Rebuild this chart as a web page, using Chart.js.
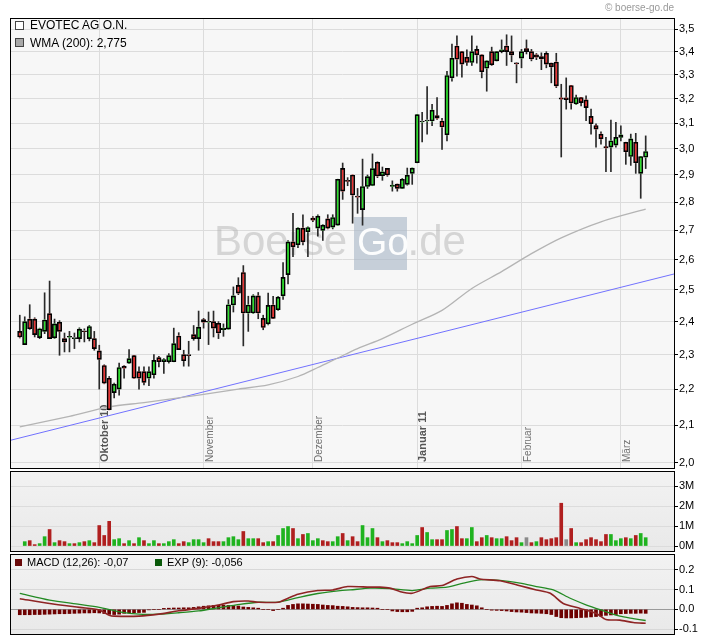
<!DOCTYPE html>
<html lang="de"><head><meta charset="utf-8"><title>EVOTEC AG O.N.</title>
<script src="https://cdn.jsdelivr.net/npm/chart.js@4.4.1/dist/chart.umd.min.js"></script>
<style>
html,body{margin:0;padding:0;background:#fff;}
body{position:relative;width:720px;height:644px;overflow:hidden;font-family:"Liberation Sans",Arial,Helvetica,sans-serif;}
canvas{position:absolute;left:0;display:block;}
.t{position:absolute;white-space:nowrap;color:#000;}
.b{position:absolute;box-sizing:border-box;}
</style></head><body>
<canvas id="cMain" width="720" height="470" style="top:0"></canvas>
<canvas id="cVol" width="720" height="85" style="top:469px"></canvas>
<canvas id="cMacd" width="720" height="92" style="top:552px"></canvas>
<div class="t" style="right:46px;top:2px;font-size:10px;line-height:12px;color:#9a9a9a">© boerse-go.de</div>
<div class="b" style="left:15px;top:21px;width:9px;height:9px;border:1px solid #444;background:#fff"></div>
<div class="t" style="left:30px;top:18px;font-size:12px;line-height:14px">EVOTEC AG O.N.</div>
<div class="b" style="left:15px;top:38px;width:9px;height:9px;border:1px solid #444;background:#a8a8a8"></div>
<div class="t" style="left:30px;top:35.5px;font-size:12px;line-height:14px">WMA (200): 2,775</div>
<div class="b" style="left:15px;top:559px;width:7px;height:7px;background:#6a0a0a"></div>
<div class="t" style="left:27px;top:556px;font-size:11px;line-height:12px">MACD (12,26): -0,07</div>
<div class="b" style="left:155px;top:559px;width:7px;height:7px;background:#0a5a0a"></div>
<div class="t" style="left:167px;top:556px;font-size:11px;line-height:12px">EXP (9): -0,056</div>
<script>
// ---- data (trading days from 9 Sep 2010 to 8 Mar 2011, index = trading day) ----
const monthIdx = [16, 37, 59, 80, 101, 121];
const monthLabels = ['Oktober 10', 'November', 'Dezember', 'Januar 11', 'Februar', 'März'];
const monthBold = [true, false, false, true, false, false];

const opens = [
2.370,2.330,2.408,2.408,2.351,2.370,2.425,2.350,2.398,2.348,
2.352,2.348,2.348,2.370,2.348,2.348,2.311,2.268,2.231,2.190,
2.200,2.266,2.275,2.297,2.250,2.250,2.231,2.241,2.291,2.279,
2.279,2.279,2.356,2.300,2.298,2.360,2.348,2.406,2.398,2.400,
2.395,2.375,2.377,2.452,2.515,2.557,2.427,2.427,2.481,2.410,
2.393,2.452,2.437,2.481,2.550,2.660,2.650,2.708,2.695,2.743,
2.708,2.700,2.740,2.711,2.718,2.925,2.878,2.900,2.820,2.773,
2.857,2.861,2.948,2.897,2.925,2.857,2.866,2.850,2.865,2.906,
2.946,3.105,3.109,3.109,3.131,3.109,3.054,3.287,3.425,3.400,
3.376,3.353,3.410,3.386,3.328,3.400,3.360,3.400,3.425,3.400,
3.349,3.372,3.414,3.400,3.386,3.379,3.393,3.350,3.355,3.203,
3.203,3.255,3.178,3.205,3.195,3.128,3.091,3.057,3.008,3.006,
3.014,3.044,3.025,2.970,3.025,2.906,2.967];
const highs = [
2.420,2.415,2.453,2.412,2.380,2.491,2.529,2.408,2.403,2.365,
2.370,2.365,2.381,2.378,2.388,2.370,2.328,2.270,2.236,2.217,
2.275,2.268,2.315,2.297,2.264,2.264,2.264,2.300,2.295,2.288,
2.303,2.380,2.366,2.313,2.340,2.388,2.433,2.410,2.430,2.433,
2.400,2.393,2.469,2.510,2.540,2.580,2.480,2.485,2.492,2.420,
2.490,2.480,2.480,2.590,2.665,2.760,2.710,2.755,2.712,2.748,
2.755,2.720,2.755,2.755,2.884,2.945,2.890,2.900,2.850,2.960,
2.900,2.980,2.950,2.930,2.925,2.878,2.866,2.887,2.926,2.926,
3.135,3.144,3.250,3.177,3.205,3.120,3.315,3.434,3.470,3.400,
3.408,3.470,3.425,3.386,3.360,3.420,3.400,3.452,3.475,3.470,
3.353,3.410,3.452,3.410,3.392,3.395,3.400,3.350,3.393,3.260,
3.287,3.255,3.215,3.205,3.212,3.157,3.098,3.066,3.044,3.113,
3.104,3.090,3.025,3.057,3.060,2.970,3.050];
const lows = [
2.350,2.330,2.376,2.353,2.348,2.363,2.348,2.348,2.298,2.308,
2.308,2.318,2.338,2.338,2.341,2.313,2.200,2.215,2.142,2.175,
2.183,2.231,2.273,2.231,2.200,2.212,2.210,2.231,2.264,2.245,
2.275,2.279,2.315,2.266,2.266,2.343,2.313,2.380,2.330,2.353,
2.348,2.355,2.377,2.430,2.485,2.326,2.370,2.425,2.409,2.375,
2.390,2.410,2.435,2.470,2.520,2.610,2.640,2.650,2.610,2.730,
2.680,2.665,2.705,2.705,2.718,2.810,2.860,2.725,2.760,2.718,
2.850,2.860,2.890,2.880,2.895,2.840,2.840,2.850,2.862,2.865,
2.946,3.026,3.057,3.090,3.115,2.997,3.030,3.273,3.294,3.290,
3.340,3.340,3.350,3.287,3.231,3.340,3.360,3.395,3.340,3.356,
3.266,3.330,3.390,3.360,3.365,3.322,3.330,3.266,3.246,2.968,
3.157,3.157,3.175,3.170,3.110,3.057,3.006,3.018,2.912,2.912,
3.006,3.030,2.940,2.936,2.906,2.814,2.924];
const closes = [
2.353,2.400,2.378,2.360,2.378,2.405,2.348,2.393,2.370,2.338,
2.355,2.348,2.377,2.369,2.385,2.318,2.286,2.217,2.142,2.214,
2.262,2.260,2.288,2.231,2.231,2.219,2.250,2.283,2.279,2.285,
2.297,2.333,2.315,2.282,2.297,2.348,2.383,2.398,2.398,2.380,
2.365,2.380,2.453,2.481,2.490,2.427,2.452,2.481,2.427,2.382,
2.451,2.410,2.477,2.541,2.660,2.643,2.708,2.660,2.710,2.736,
2.750,2.718,2.708,2.745,2.884,2.840,2.876,2.826,2.818,2.857,
2.894,2.924,2.896,2.912,2.900,2.862,2.850,2.884,2.899,2.926,
3.135,3.105,3.109,3.153,3.120,3.085,3.297,3.372,3.367,3.346,
3.353,3.400,3.386,3.313,3.360,3.343,3.400,3.408,3.400,3.386,
3.347,3.400,3.400,3.368,3.376,3.368,3.346,3.334,3.253,3.198,
3.196,3.182,3.205,3.184,3.163,3.098,3.077,3.038,3.003,3.031,
3.044,3.054,2.988,3.038,2.946,2.970,2.989];

// volume in millions (first day has no bar)
const volumes = [
null,0.22,0.27,0.07,0.12,0.47,0.83,0.17,0.27,0.22,
0.12,0.12,0.17,0.22,0.27,0.17,1.03,0.53,1.24,0.32,
0.37,0.12,0.27,0.12,0.42,0.27,0.12,0.27,0.12,0.12,
0.22,0.32,0.12,0.22,0.17,0.32,0.32,0.17,0.37,0.22,
0.22,0.22,0.42,0.47,0.32,0.73,0.37,0.37,0.37,0.17,
0.22,0.22,0.53,0.88,0.98,0.88,0.37,0.58,0.63,0.27,
0.37,0.27,0.22,0.22,0.47,0.63,0.27,0.47,0.22,1.03,
0.42,0.88,0.42,0.22,0.27,0.17,0.17,0.12,0.22,0.12,
0.53,0.93,0.68,0.32,0.32,0.32,0.78,0.83,0.98,0.37,
0.37,0.93,0.22,0.42,0.53,0.42,0.37,0.37,0.47,0.27,
0.42,0.17,0.42,0.17,0.22,0.42,0.32,0.37,0.42,2.15,
0.32,0.88,0.17,0.17,0.32,0.42,0.32,0.22,0.58,0.58,
0.27,0.37,0.42,0.37,0.53,0.63,0.42];
const volumeDir = [
'-','g','r','r','g','g','r','g','r','r',
'g','r','g','r','g','r','r','r','r','g',
'g','r','g','r','g','r','g','g','r','g',
'g','g','r','r','g','g','g','g','r','r',
'r','g','g','g','g','r','g','g','r','r',
'g','r','g','g','g','r','g','r','g','g',
'g','r','r','g','g','r','g','r','r','g',
'g','g','r','g','r','r','r','g','g','g',
'g','r','g','g','r','r','g','g','r','r',
'g','g','r','r','g','r','g','g','r','r',
'r','g','n','r','g','r','r','r','r','r',
'n','r','g','r','r','r','r','r','r','g',
'g','g','r','g','r','g','g'];

// WMA(200) line, read at selected trading days
const wmaIdx  = [0, 10, 18, 25, 36, 44, 50, 56, 60, 64, 68, 73, 79, 85, 91, 97, 103, 109, 117, 126];
const wmaVals = [2.095,2.124,2.150,2.162,2.183,2.200,2.212,2.236,2.262,2.290,2.318,2.348,2.392,2.435,2.505,2.560,2.620,2.674,2.730,2.775];
// blue trend line, end points at the panel edges
const trendIdx  = [-1.97, 131.9];
const trendVals = [2.059, 2.553];

// MACD (12,26) and EXP (9), read at selected trading days
const macdIdx  = [0,6,12,16,18,19,24,28,32,36,40,43,46,48,52,54,56,60,63,66,70.5,72.5,74.5,76.5,79,82.6,85,88,91,92.6,96.7,100.7,104,106.8,109.4,112.8,116,118,120.8,123.5,126];
const macdVals = [0.054,0.030,0.010,-0.003,-0.029,-0.034,-0.034,-0.024,-0.007,0.005,0.022,0.039,0.042,0.036,0.036,0.056,0.076,0.095,0.098,0.115,0.112,0.112,0.107,0.090,0.081,0.115,0.120,0.153,0.166,0.153,0.144,0.119,0.098,0.081,0.030,0.005,-0.020,-0.051,-0.054,-0.066,-0.070];
const sigIdx   = [0,6,12,16,20,24,28,32,36,40,44.3,48,52,56,60,64.5,66.5,70.5,74.5,79,82.6,86,89.3,92.6,96.7,100.7,104,107.4,110.8,114.1,117.5,120.8,123.5,126];
const sigVals  = [0.081,0.047,0.025,0.010,-0.012,-0.024,-0.024,-0.017,-0.008,0.008,0.025,0.036,0.036,0.059,0.080,0.095,0.098,0.107,0.105,0.095,0.107,0.112,0.132,0.149,0.146,0.132,0.115,0.098,0.056,0.022,-0.007,-0.034,-0.046,-0.056];
const histVals = [
-0.027,-0.027,-0.027,-0.026,-0.026,-0.025,-0.024,-0.023,-0.022,-0.022,
-0.021,-0.020,-0.019,-0.018,-0.018,-0.017,-0.018,-0.021,-0.025,-0.026,
-0.024,-0.020,-0.018,-0.017,-0.016,-0.015,-0.002,0,0,0.005,
0.006,0.007,0.007,0.008,0.008,0.010,0.013,0.016,0.018,0.020,
0.021,0.021,0.020,0.019,0.017,0.012,0.010,0.008,0.006,0,
0,-0.006,0,0.006,0.020,0.025,0.028,0.028,0.027,0.026,
0.025,0.022,0.020,0.019,0.016,0.015,0.013,0.010,0.009,0.008,
0.008,0.007,0.006,0,0,-0.008,-0.011,-0.012,-0.012,-0.010,
0.006,0.008,0.013,0.015,0.016,0.015,0.020,0.028,0.033,0.031,
0.025,0.022,0.018,0.008,0,-0.004,-0.005,-0.006,-0.008,-0.011,
-0.013,-0.014,-0.016,-0.018,-0.019,-0.020,-0.022,-0.026,-0.036,-0.042,
-0.043,-0.043,-0.042,-0.041,-0.040,-0.038,-0.036,-0.034,-0.030,-0.028,
-0.026,-0.022,-0.021,-0.020,-0.020,-0.019,-0.020];

const priceTicks = [2.0,2.1,2.2,2.3,2.4,2.5,2.6,2.7,2.8,2.9,3.0,3.1,3.2,3.3,3.4,3.5];
const volTicks = [0, 1, 2, 3];
const macdTicks = [-0.1, 0, 0.1, 0.2];

// ---- chart setup ----
const FONT = '"Liberation Sans", Arial, Helvetica, sans-serif';
Chart.defaults.font.family = FONT;
Chart.defaults.animation = false;
const X_MIN = -1.97, X_MAX = 131.9;
const idx = opens.map((_, i) => i);

function panel(fill) {
  return {
    id: 'panel',
    beforeDraw(c) {
      const a = c.chartArea, ctx = c.ctx;
      ctx.save();
      if (Array.isArray(fill)) {
        const g = ctx.createLinearGradient(0, a.top, 0, a.bottom);
        g.addColorStop(0, fill[0]); g.addColorStop(1, fill[1]);
        ctx.fillStyle = g;
      } else ctx.fillStyle = fill;
      ctx.fillRect(a.left, a.top, a.right - a.left, a.bottom - a.top);
      ctx.restore();
    },
    afterDraw(c) {
      const a = c.chartArea, ctx = c.ctx;
      ctx.save();
      ctx.strokeStyle = '#000'; ctx.lineWidth = 1;
      ctx.strokeRect(a.left + 0.5, a.top + 0.5, a.right - a.left - 1, a.bottom - a.top);
      ctx.restore();
    }
  };
}

const decor = {
  id: 'decor',
  beforeDatasetsDraw(c) {
    const ctx = c.ctx, a = c.chartArea, xs = c.scales.x;
    ctx.save();
    ctx.beginPath(); ctx.rect(a.left, a.top, a.right - a.left, a.bottom - a.top); ctx.clip();
    // watermark
    ctx.textBaseline = 'alphabetic'; ctx.textAlign = 'left';
    ctx.font = '42px ' + FONT;
    ctx.fillStyle = 'rgba(175,175,175,0.48)';
    ctx.fillText('Boerse', 214, 255);
    ctx.fillStyle = 'rgba(168,182,198,0.62)';
    ctx.fillRect(354, 217, 53, 53);
    ctx.font = '39px ' + FONT;
    ctx.fillStyle = 'rgba(255,255,255,0.95)';
    ctx.fillText('Go', 357, 255);
    ctx.font = '42px ' + FONT;
    ctx.fillStyle = 'rgba(175,175,175,0.48)';
    ctx.fillText('.de', 407.5, 255);
    // month labels
    monthIdx.forEach((m, k) => {
      const px = xs.getPixelForValue(m);
      ctx.save();
      ctx.translate(Math.round(px) + 9, 462);
      ctx.rotate(-Math.PI / 2);
      ctx.font = (monthBold[k] ? 'bold 11px ' : '10px ') + FONT;
      ctx.fillStyle = monthBold[k] ? '#555' : '#707070';
      ctx.fillText(monthLabels[k], 0, 0);
      ctx.restore();
    });
    ctx.restore();
  }
};

function yAxis(extra) {
  return Object.assign({
    position: 'right',
    border: { display: false },
    grid: { color: '#dcdcdc', tickColor: '#000', tickLength: 3, lineWidth: 1 },
    ticks: { autoSkip: false, padding: 1, color: '#000', font: { size: 11, family: FONT }, maxRotation: 0 },
    afterFit: s => { s.width = 45; s.paddingTop = 0; s.paddingBottom = 0; }
  }, extra);
}
const xHidden = { type: 'linear', min: X_MIN, max: X_MAX, display: false, offset: false, grid: { offset: false } };
const baseOpts = { responsive: false, animation: false, events: [], plugins: { legend: { display: false }, tooltip: { enabled: false } } };

const bodyData = idx.map(i => ({ x: i, y: [opens[i], closes[i]] }));

new Chart(document.getElementById('cMain'), {
  type: 'bar',
  data: { datasets: [
    { type: 'line', data: trendIdx.map((x, k) => ({ x, y: trendVals[k] })), borderColor: '#7272ff', borderWidth: 1, pointRadius: 0, order: 7 },
    { type: 'line', data: wmaIdx.map((x, k) => ({ x, y: wmaVals[k] })), borderColor: '#b4b4b4', borderWidth: 1.3, pointRadius: 0, tension: 0.3, order: 6 },
    { data: idx.map(i => ({ x: i, y: [lows[i], highs[i]] })), backgroundColor: '#2a2a2a', barThickness: 1, grouped: false, order: 5 },
    { data: bodyData, backgroundColor: '#ffffff', barThickness: 4.4, grouped: false, minBarLength: 1, order: 4 },
    { data: bodyData, backgroundColor: idx.map(i => closes[i] >= opens[i] ? '#2ee02e' : '#ea3434'), barThickness: 1.5, grouped: false, order: 3 },
    { data: bodyData, backgroundColor: 'rgba(0,0,0,0)', borderColor: '#000', borderWidth: 1, borderSkipped: false, barThickness: 4.4, grouped: false, minBarLength: 1, order: 2 }
  ] },
  options: Object.assign({}, baseOpts, {
    layout: { padding: { left: 10, top: 18, right: 0, bottom: 2 } },
    scales: {
      x: { type: 'linear', min: X_MIN, max: X_MAX, offset: false, display: true,
           grid: { offset: false, color: '#dcdcdc', drawTicks: false, lineWidth: 1 },
           border: { display: false }, ticks: { display: false },
           afterBuildTicks: s => { s.ticks = monthIdx.map(v => ({ value: v })); },
           afterFit: s => { s.height = 0; s.paddingLeft = 0; s.paddingRight = 0; } },
      y: yAxis({ type: 'logarithmic', min: 1.987, max: 3.551, bounds: 'data',
           ticks: { autoSkip: false, padding: 1, color: '#000', font: { size: 11, family: FONT },
                    callback: v => Number(v).toFixed(1).replace('.', ',') },
           afterBuildTicks: s => { s.ticks = priceTicks.map(v => ({ value: v })); } })
    }
  }),
  plugins: [panel('#f7f7f7'), decor]
});

new Chart(document.getElementById('cVol'), {
  type: 'bar',
  data: { datasets: [{
    data: idx.filter(i => volumes[i] !== null).map(i => ({ x: i, y: volumes[i] })),
    backgroundColor: idx.filter(i => volumes[i] !== null).map(i => volumeDir[i] === 'g' ? '#1fb31f' : volumeDir[i] === 'r' ? '#b01f1f' : '#8a8a8a'),
    barThickness: 3, grouped: false
  }] },
  options: Object.assign({}, baseOpts, {
    layout: { padding: { left: 10, top: 2, right: 0, bottom: 3 } },
    scales: {
      x: xHidden,
      y: yAxis({ type: 'linear', min: -0.25, max: 3.77,
           ticks: { autoSkip: false, padding: 1, color: '#000', font: { size: 11, family: FONT }, callback: v => v + 'M' },
           afterBuildTicks: s => { s.ticks = volTicks.map(v => ({ value: v })); } })
    }
  }),
  plugins: [panel(['#f2f2f2', '#e9e9e9'])]
});

new Chart(document.getElementById('cMacd'), {
  type: 'bar',
  data: { datasets: [
    { type: 'line', data: macdIdx.map((x, k) => ({ x, y: macdVals[k] })), borderColor: '#8e2424', borderWidth: 1.6, pointRadius: 0, tension: 0.25, order: 1 },
    { type: 'line', data: sigIdx.map((x, k) => ({ x, y: sigVals[k] })), borderColor: '#238a23', borderWidth: 1.3, pointRadius: 0, tension: 0.25, order: 2 },
    { data: idx.map(i => ({ x: i, y: histVals[i] })), backgroundColor: '#6e0000', barThickness: 3, grouped: false, order: 3 }
  ] },
  options: Object.assign({}, baseOpts, {
    layout: { padding: { left: 10, top: 2, right: 0, bottom: 10 } },
    scales: {
      x: xHidden,
      y: yAxis({ type: 'linear', min: -0.124, max: 0.279,
           grid: { color: c => (c.tick && c.tick.value === 0) ? '#9a9a9a' : '#d8d8d8', tickColor: '#000', tickLength: 3, lineWidth: 1 },
           ticks: { autoSkip: false, padding: 1, color: '#000', font: { size: 11, family: FONT }, callback: v => Number(v).toFixed(1) },
           afterBuildTicks: s => { s.ticks = macdTicks.map(v => ({ value: v })); } })
    }
  }),
  plugins: [panel(['#f2f2f2', '#e9e9e9'])]
});
</script>
</body></html>
